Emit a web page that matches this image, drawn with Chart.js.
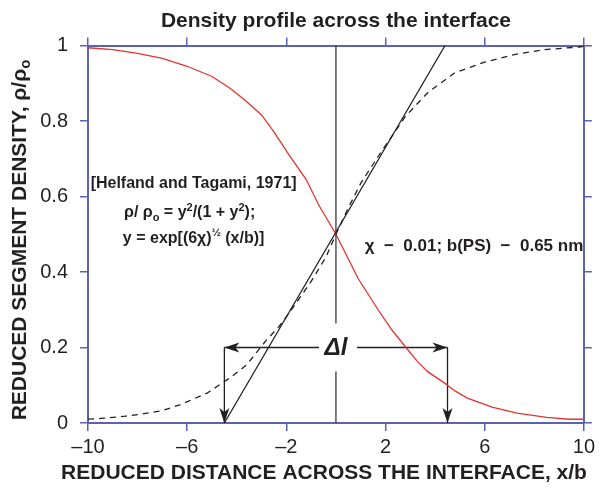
<!DOCTYPE html>
<html>
<head>
<meta charset="utf-8">
<script src="https://cdn.jsdelivr.net/npm/chart.js@4.4.1/dist/chart.umd.min.js"></script>
<style>
  html, body { margin: 0; padding: 0; background: #fff; }
  #wrap { width: 599px; height: 488px; }
</style>
</head>
<body>
<div id="wrap"><canvas id="densityChart"></canvas></div>
<script>
// values
const xTicks = [-10, -6, -2, 2, 6, 10];
const yTicks = [0, 0.2, 0.4, 0.6, 0.8, 1];

// red curve (measured profile)
const redX = [-10, -9, -8, -7, -6, -5, -4.3, -3.7, -3, -2.5, -1.9, -1.2, -0.7, 0, 0.45, 0.9, 1.7, 2.25, 2.8, 3.3, 3.7, 4.4, 4.8, 5.3, 6.3, 7.3, 8.5, 9.4, 10];
const redY = [0.994, 0.989, 0.979, 0.966, 0.945, 0.918, 0.888, 0.857, 0.816, 0.771, 0.711, 0.645, 0.578, 0.500, 0.441, 0.382, 0.300, 0.247, 0.202, 0.162, 0.136, 0.105, 0.085, 0.066, 0.042, 0.026, 0.015, 0.010, 0.010];

// dashed curve (Helfand-Tagami profile)
const dashX = [-10, -9.5, -8.5, -7.8, -7, -6.3, -5.2, -4.2, -3.6, -2.8, -2.3, -1.9, -1, -0.4, 0, 0.5, 1, 1.7, 2.8, 3.7, 4.8, 6, 7.2, 8.4, 9.8, 10];
const dashY = [0.010, 0.012, 0.018, 0.024, 0.033, 0.048, 0.079, 0.123, 0.154, 0.220, 0.255, 0.290, 0.375, 0.440, 0.500, 0.570, 0.635, 0.706, 0.812, 0.875, 0.928, 0.956, 0.976, 0.989, 0.996, 0.998];

// tangent line and centre line
const tangentX = [-4.5, 4.4];
const tangentY = [0, 1];
const centreX = [0, 0];
const centreY = [0, 1];

// interface width arrows
const deltaX = [-4.5, 4.5];
const deltaY = 0.2;

const AXIS = '#5a63b3';
const INK = '#231f20';
const FONT = '"Liberation Sans", Arial, Helvetica, sans-serif';

function pts(xs, ys) {
  return xs.map((x, i) => ({ x: x, y: ys[i] }));
}

function line(data, color, width, dash) {
  return {
    data: data,
    borderColor: color,
    borderWidth: width,
    borderDash: dash || [],
    pointRadius: 0,
    showLine: true,
    fill: false,
    tension: 0,
    clip: false
  };
}

// text with sub/superscript pieces: [text, mode] mode 0 normal, 1 sup, -1 sub
function drawRich(ctx, parts, x, y, size, weight, align) {
  const small = Math.round(size * 0.7);
  let total = 0;
  parts.forEach(p => {
    ctx.font = weight + ' ' + (p[1] ? small : size) + 'px ' + FONT;
    total += ctx.measureText(p[0]).width;
  });
  let cx = align === 'center' ? x - total / 2 : (align === 'right' ? x - total : x);
  const base = y + size * 0.36;
  ctx.textAlign = 'left';
  ctx.textBaseline = 'alphabetic';
  parts.forEach(p => {
    ctx.font = weight + ' ' + (p[1] ? small : size) + 'px ' + FONT;
    let by = base;
    if (p[1] === 1) by = base - size * 0.4;
    if (p[1] === -1) by = base + size * 0.22;
    ctx.fillText(p[0], cx, by);
    cx += ctx.measureText(p[0]).width;
  });
}

function arrowHead(ctx, tx, ty, dx, dy) {
  const len = 15, half = 5, notch = 11;
  const px = -dy, py = dx;
  ctx.beginPath();
  ctx.moveTo(tx, ty);
  ctx.lineTo(tx - dx * len + px * half, ty - dy * len + py * half);
  ctx.lineTo(tx - dx * notch, ty - dy * notch);
  ctx.lineTo(tx - dx * len - px * half, ty - dy * len - py * half);
  ctx.closePath();
  ctx.fill();
}

const annotations = {
  id: 'annotations',
  afterDatasetsDraw(chart) {
    const ctx = chart.ctx;
    const xs = chart.scales.x, ys = chart.scales.y;
    const area = chart.chartArea;
    ctx.save();
    ctx.fillStyle = INK;

    // arrow heads
    const ay = ys.getPixelForValue(deltaY);
    const x0 = xs.getPixelForValue(deltaX[0]);
    const x1 = xs.getPixelForValue(deltaX[1]);
    const yb = ys.getPixelForValue(0);
    arrowHead(ctx, x0, ay, -1, 0);
    arrowHead(ctx, x1, ay, 1, 0);
    arrowHead(ctx, x0, yb, 0, 1);
    arrowHead(ctx, x1, yb, 0, 1);

    // delta l label with white box
    const lx = xs.getPixelForValue(0);
    ctx.fillStyle = '#ffffff';
    ctx.fillRect(lx - 17, ay - 24, 38, 48);
    ctx.fillStyle = INK;
    ctx.font = 'italic bold 24px ' + FONT;
    ctx.textAlign = 'center';
    ctx.textBaseline = 'middle';
    ctx.fillText('Δl', lx, ay + 1);

    // formula block
    const fx = xs.getPixelForValue(-5.74);
    drawRich(ctx, [['[Helfand and Tagami, 1971]', 0]], fx, ys.getPixelForValue(0.637), 16, 'bold', 'center');
    drawRich(ctx, [['ρ/ ρ', 0], ['o', -1], [' = y', 0], ['2', 1], ['/(1 + y', 0], ['2', 1], [');', 0]],
      fx - 4, ys.getPixelForValue(0.560), 16, 'bold', 'center');
    drawRich(ctx, [['y = exp[(6χ)', 0], ['½', 1], [' (x/b)]', 0]], fx, ys.getPixelForValue(0.493), 16, 'bold', 'center');

    drawRich(ctx, [['χ  −  0.01; b(PS)  −  0.65 nm', 0]], xs.getPixelForValue(1.16), ys.getPixelForValue(0.472), 17, 'bold', 'left');

    // chart title, centred over the plot
    drawRich(ctx, [['Density profile across the interface', 0]], (area.left + area.right) / 2, 19, 21, 'bold', 'center');

    // axis titles
    drawRich(ctx, [['REDUCED DISTANCE ACROSS THE INTERFACE, x/b', 0]], 324, 471, 21, 'bold', 'center');
    ctx.save();
    ctx.translate(18, 240);
    ctx.rotate(-Math.PI / 2);
    drawRich(ctx, [['REDUCED SEGMENT DENSITY, ρ/ρ', 0], ['o', -1]], 0, 0, 21, 'bold', 'center');
    ctx.restore();

    ctx.restore();
  }
};

function fixedSize(size) {
  return function (scale) {
    if (scale.isHorizontal()) scale.height = size; else scale.width = size;
  };
}

function axisGrid() {
  return {
    display: true,
    drawOnChartArea: false,
    drawTicks: true,
    tickLength: 8,
    color: AXIS,
    lineWidth: 1.5
  };
}

const ctx = document.getElementById('densityChart').getContext('2d');
new Chart(ctx, {
  type: 'scatter',
  data: {
    datasets: [
      line(pts(centreX, centreY), '#3a3a3a', 1.3),
      line(pts(dashX, dashY), INK, 1.3, [6, 5]),
      line(pts(tangentX, tangentY), INK, 1.3),
      line(pts(redX, redY), '#e2352b', 1.3),
      line(pts(deltaX, [deltaY, deltaY]), INK, 1.3),
      line(pts([deltaX[0], deltaX[0]], [deltaY, 0]), INK, 1.3),
      line(pts([deltaX[1], deltaX[1]], [deltaY, 0]), INK, 1.3)
    ]
  },
  options: {
    responsive: true,
    maintainAspectRatio: false,
    animation: false,
    layout: { padding: { top: 37.5, left: 0, right: 0, bottom: 0 } },
    plugins: {
      legend: { display: false },
      tooltip: { enabled: false },
      title: { display: false }
    },
    scales: {
      x: {
        type: 'linear',
        position: 'bottom',
        min: -10, max: 10,
        afterBuildTicks: s => { s.ticks = xTicks.map(v => ({ value: v })); },
        afterFit: fixedSize(65),
        grid: axisGrid(),
        border: { display: true, color: AXIS, width: 2 },
        ticks: {
          color: INK,
          padding: 4,
          maxRotation: 0,
          font: { family: FONT, size: 20 },
          callback: v => (v < 0 ? '–' + Math.abs(v) : String(v))
        }
      },
      x2: {
        type: 'linear',
        position: 'top',
        min: -10, max: 10,
        afterBuildTicks: s => { s.ticks = xTicks.map(v => ({ value: v })); },
        afterFit: fixedSize(8),
        grid: axisGrid(),
        border: { display: true, color: AXIS, width: 2 },
        ticks: { display: false }
      },
      y: {
        type: 'linear',
        position: 'left',
        min: 0, max: 1,
        afterBuildTicks: s => { s.ticks = yTicks.map(v => ({ value: v })); },
        afterFit: fixedSize(88),
        grid: axisGrid(),
        border: { display: true, color: AXIS, width: 2 },
        ticks: {
          color: INK,
          padding: 12,
          font: { family: FONT, size: 20 },
          callback: v => (v === 0 || v === 1 ? String(v) : v.toFixed(1))
        }
      },
      y2: {
        type: 'linear',
        position: 'right',
        min: 0, max: 1,
        afterBuildTicks: s => { s.ticks = yTicks.map(v => ({ value: v })); },
        afterFit: fixedSize(13),
        grid: axisGrid(),
        border: { display: true, color: AXIS, width: 2 },
        ticks: { display: false }
      }
    }
  },
  plugins: [annotations]
});
</script>
</body>
</html>
